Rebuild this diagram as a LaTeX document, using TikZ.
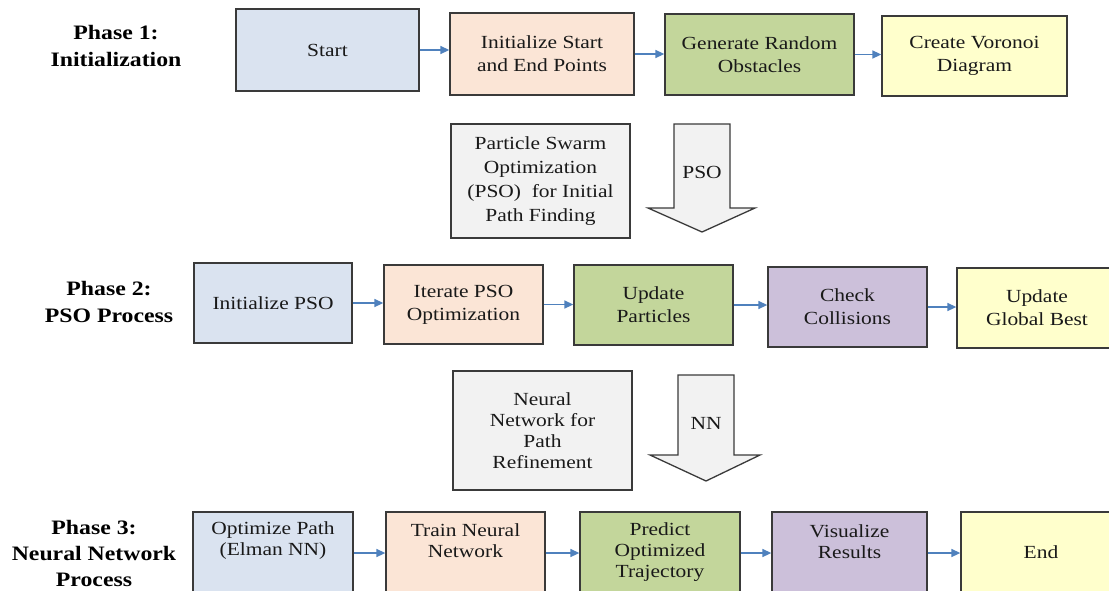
\documentclass[tikz,border=0pt]{standalone}
\usepackage{fontspec}
\setmainfont[FakeStretch=1.16]{Liberation Serif}
\usetikzlibrary{arrows.meta}
\definecolor{cblue}{HTML}{DAE3F0}
\definecolor{cpeach}{HTML}{FBE5D6}
\definecolor{cgreen}{HTML}{C3D69B}
\definecolor{cyellow}{HTML}{FFFFCC}
\definecolor{cpurple}{HTML}{CCC0DA}
\definecolor{cgray}{HTML}{F2F2F2}
\definecolor{cborder}{HTML}{3A3A3A}
\definecolor{carrow}{HTML}{4F81BD}
\begin{document}
\begin{tikzpicture}[x=1pt,y=-1pt,
  box/.style={draw=cborder, line width=1.3pt, inner sep=0pt, align=center,
    font=\fontsize{18.5}{23}\selectfont, text=black!90},
  lbl/.style={inner sep=0pt, align=center, font=\fontsize{18.5}{21}\selectfont, text=black!90},
  phase/.style={inner sep=0pt, align=center, font=\fontsize{20.5}{27}\selectfont\bfseries, text=black},
  arr/.style={-{Triangle[length=9pt,width=8pt]}, draw=carrow, line width=1.5pt},
  blockarrow/.style={draw=cborder, line width=1.3pt, fill=cgray, line join=miter}]
\useasboundingbox (0,0) rectangle (1109,590);
\clip (0,0) rectangle (1109,590);

% Phase labels
\node[phase] (p1) at (116,46) {Phase 1:\\Initialization};
\node[phase] (p2) at (109,301.5) {Phase 2:\\PSO Process};
\node[phase, font=\fontsize{20.5}{26}\selectfont\bfseries] (p3) at (94,553) {Phase 3:\\Neural Network\\Process};

% Row 1
\node[box, fill=cblue, minimum width=183, minimum height=82] (start) at (327.5,50) {Start};
\node[box, fill=cpeach, minimum width=184, minimum height=82] (init) at (542,54) {Initialize Start\\and End Points};
\node[box, fill=cgreen, minimum width=189, minimum height=81] (gen) at (759.5,54.5) {Generate Random\\Obstacles};
\node[box, fill=cyellow, minimum width=185, minimum height=80] (vor) at (974.5,56) {Create Voronoi\\Diagram};
\draw[arr] (start.east) -- (start.east -| init.west);
\draw[arr] (init.east) -- (init.east -| gen.west);
\draw[arr] (gen.east) -- (gen.east -| vor.west);

% PSO transition
\node[box, fill=cgray, minimum width=179, minimum height=114, font=\fontsize{18.5}{24}\selectfont] (psotext) at (540.5,181) {Particle Swarm\\Optimization\\(PSO)\ \ for Initial\\Path Finding};
\draw[blockarrow] (674,124) -- (730,124) -- (730,208) -- (755,208) -- (702,232) -- (648,208) -- (674,208) -- cycle;
\node[lbl] (pso) at (702,172) {PSO};

% Row 2
\node[box, fill=cblue, minimum width=158, minimum height=80] (ipso) at (273,303) {Initialize PSO};
\node[box, fill=cpeach, minimum width=159, minimum height=79] (iter) at (463.5,304.5) {Iterate PSO\\Optimization};
\node[box, fill=cgreen, minimum width=159, minimum height=80] (upd) at (653.5,305) {Update\\Particles};
\node[box, fill=cpurple, minimum width=159, minimum height=80] (chk) at (847.5,307) {Check\\Collisions};
\node[box, fill=cyellow, minimum width=160, minimum height=80] (gb) at (1037,308) {Update\\Global Best};
\draw[arr] (ipso.east) -- (ipso.east -| iter.west);
\draw[arr] (iter.east) -- (iter.east -| upd.west);
\draw[arr] (upd.east) -- (upd.east -| chk.west);
\draw[arr] (chk.east) -- (chk.east -| gb.west);

% NN transition
\node[box, fill=cgray, minimum width=179, minimum height=119, font=\fontsize{18.5}{21}\selectfont] (nntext) at (542.5,430.5) {Neural\\Network for\\Path\\Refinement};
\draw[blockarrow] (678,375) -- (734,375) -- (734,455) -- (760,455) -- (706,481) -- (650,455) -- (678,455) -- cycle;
\node[lbl] (nn) at (706,423) {NN};

% Row 3
\node[box, fill=cblue, minimum width=160, minimum height=82] (opt) at (273,553) {};
\node[box, fill=cpeach, minimum width=159, minimum height=82] (train) at (465.5,553) {};
\node[box, fill=cgreen, minimum width=160, minimum height=82] (pred) at (660,553) {};
\node[box, fill=cpurple, minimum width=155, minimum height=82] (vis) at (849.5,553) {};
\node[box, fill=cyellow, minimum width=160, minimum height=82] (end) at (1041,553) {};
\node[lbl] (optt) at (273,540.5) {Optimize Path\\(Elman NN)};
\node[lbl] (traint) at (465.5,540.5) {Train Neural\\Network};
\node[lbl] (predt) at (660,552) {Predict\\Optimized\\Trajectory};
\node[lbl] (vist) at (849.5,541.5) {Visualize\\Results};
\node[lbl] (endt) at (1041,552) {End};
\draw[arr] (opt.east) -- (opt.east -| train.west);
\draw[arr] (train.east) -- (train.east -| pred.west);
\draw[arr] (pred.east) -- (pred.east -| vis.west);
\draw[arr] (vis.east) -- (vis.east -| end.west);
\end{tikzpicture}
\end{document}
